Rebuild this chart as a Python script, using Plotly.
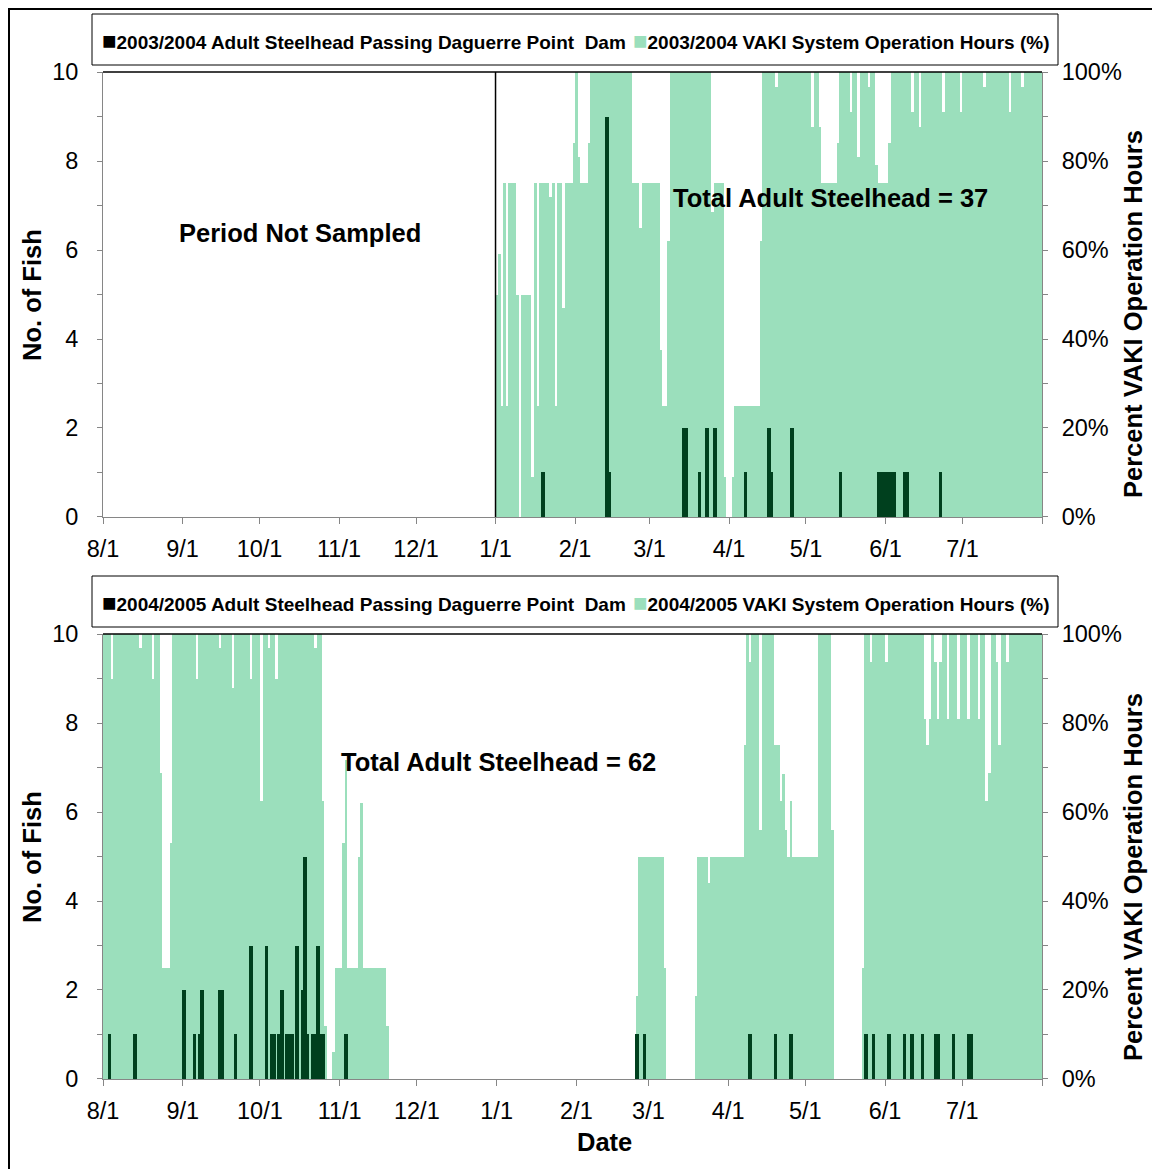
import numpy as np
import pandas as pd
import plotly.graph_objects as go

# ---------------- DATA ----------------
# Daily VAKI operation (%) as runs of [value, number_of_days], starting 2003-08-01
OPS_0304_RUNS = [
    [0, 153],
    [50, 1], [59, 1], [25, 1], [75, 1], [25, 1], [75, 3], [50, 1], [0, 1], [50, 4],
    [9, 1], [75, 1], [25, 1], [75, 4], [72, 1], [75, 1], [25, 1], [75, 2], [47, 1],
    [75, 3], [84, 1], [100, 1], [81, 1], [75, 3], [84, 1], [100, 16], [75, 3], [65, 1],
    [75, 7], [37.5, 1], [25, 2], [62, 1], [100, 16], [68.6, 1], [75, 4], [9, 1], [0, 2],
    [9, 1], [25, 10], [62, 1], [100, 5], [96.7, 1], [100, 13], [87.7, 1], [100, 2],
    [87.7, 1], [75, 6], [84, 1], [100, 4], [91, 1], [100, 2], [81, 1], [100, 3],
    [96.7, 1], [100, 2], [79, 1], [75, 4], [84, 1], [100, 8], [91, 1], [100, 2],
    [87.7, 1], [100, 8], [91, 1], [100, 6], [91, 1], [100, 8], [96.7, 1], [100, 9],
    [91, 1], [100, 4], [96.7, 1], [100, 7],
]
# starting 2004-08-01
OPS_0405_RUNS = [
    [100, 3], [90, 1], [100, 10], [96.8, 1], [100, 4], [90, 1], [100, 2], [68.8, 1],
    [25, 3], [53, 1], [100, 9], [90, 1], [100, 8], [96.8, 1], [100, 4], [87.9, 1],
    [100, 6], [90, 1], [100, 3], [62.5, 1], [100, 2], [96.8, 1], [100, 2], [90, 1],
    [100, 14], [96.8, 1], [100, 2], [62.5, 1], [12, 1], [0, 2], [6, 1], [25, 3],
    [53, 1], [71.7, 1], [25, 4], [50, 1], [62, 1], [25, 9], [12, 1], [0, 96],
    [18.7, 1], [50, 10], [25, 1], [0, 11], [18.7, 1], [50, 4], [44, 1], [50, 13],
    [75, 1], [100, 1], [93.8, 1], [100, 3], [56, 1], [100, 5], [75, 2], [62.5, 1],
    [68.5, 1], [56, 1], [50, 1], [62.5, 1], [50, 10], [100, 5], [56, 1], [0, 11],
    [25, 1], [100, 2], [93.8, 1], [100, 5], [93.8, 1], [100, 14], [81, 1], [75, 1],
    [81, 1], [100, 1], [93.8, 1], [81, 1], [93.8, 1], [100, 2], [81, 1], [100, 3],
    [81, 1], [100, 3], [81, 1], [100, 3], [81, 1], [100, 2], [62.5, 1], [68.7, 1],
    [100, 2], [93.8, 1], [75, 1], [100, 2], [93.8, 1], [100, 13],
]

FISH_0304_DATES = [
    "2004-01-19", "2004-02-13", "2004-02-14", "2004-03-14", "2004-03-15", "2004-03-20",
    "2004-03-23", "2004-03-26", "2004-04-07", "2004-04-16", "2004-04-17", "2004-04-25",
    "2004-05-14", "2004-05-29", "2004-05-30", "2004-05-31", "2004-06-01", "2004-06-02",
    "2004-06-03", "2004-06-04", "2004-06-08", "2004-06-09", "2004-06-22",
]
FISH_0304_COUNTS = [1, 9, 1, 2, 2, 1, 2, 2, 1, 2, 1, 2, 1, 1, 1, 1, 1, 1, 1, 1, 1, 1, 1]

FISH_0405_DATES = [
    "2004-08-03", "2004-08-13", "2004-09-01", "2004-09-05", "2004-09-07", "2004-09-08",
    "2004-09-15", "2004-09-16", "2004-09-21", "2004-09-27", "2004-10-03", "2004-10-05",
    "2004-10-06", "2004-10-08", "2004-10-09", "2004-10-11", "2004-10-12", "2004-10-13",
    "2004-10-15", "2004-10-17", "2004-10-18", "2004-10-19", "2004-10-21", "2004-10-22",
    "2004-10-23", "2004-10-24", "2004-10-25", "2004-11-03", "2005-02-24", "2005-02-27",
    "2005-04-09", "2005-04-19", "2005-04-25", "2005-05-24", "2005-05-27", "2005-06-02",
    "2005-06-08", "2005-06-11", "2005-06-15", "2005-06-20", "2005-06-21", "2005-06-27",
    "2005-07-03", "2005-07-04",
]
FISH_0405_COUNTS = [
    1, 1, 2, 1, 1, 2, 2, 2, 1, 3, 3, 1, 1, 1, 2, 1, 1, 1, 3, 2, 5, 1, 1, 1, 3, 1, 1, 1,
    1, 1, 1, 1, 1, 1, 1, 1, 1, 1, 1, 1, 1, 1, 1, 1,
]

TICK_LABELS = ["8/1", "9/1", "10/1", "11/1", "12/1", "1/1", "2/1", "3/1", "4/1", "5/1", "6/1", "7/1", ""]
TOTALS = [37, 62]
SEASONS = ["2003/2004", "2004/2005"]
FISH_NAME = "Adult Steelhead Passing Daguerre Point  Dam"
OPS_NAME = "VAKI System Operation Hours (%)"

# ---------------- helpers ----------------
def expand(runs, start):
    vals = np.repeat([r[0] for r in runs], [r[1] for r in runs])
    dates = pd.date_range(start, periods=len(vals), freq="D")
    return dates, vals

GREEN = "#9BDFBC"
DARK = "#00401E"
FONT = "Arial, Liberation Sans, sans-serif"
AX_GRAY = "#868686"
DAY_MS = 86400000
TICK_SIZE = 23.5
TITLE_SIZE = 25.5
LEGEND_SIZE = 19

d1, v1 = expand(OPS_0304_RUNS, "2003-08-01")
d2, v2 = expand(OPS_0405_RUNS, "2004-08-01")

fig = go.Figure()

panels = [
    dict(d=d1, v=v1, fd=FISH_0304_DATES, fc=FISH_0304_COUNTS, x="x", ypct="y", yfish="y2",
         season=SEASONS[0]),
    dict(d=d2, v=v2, fd=FISH_0405_DATES, fc=FISH_0405_COUNTS, x="x2", ypct="y3", yfish="y4",
         season=SEASONS[1]),
]

for p in panels:
    fig.add_trace(go.Bar(
        x=p["d"], y=p["v"], xaxis=p["x"], yaxis=p["ypct"],
        name=f"{p['season']} {OPS_NAME}",
        marker=dict(color=GREEN, line=dict(width=0)),
        width=DAY_MS, xperiod=DAY_MS, xperiodalignment="middle",
        showlegend=False, hoverinfo="x+y",
    ))
    fig.add_trace(go.Bar(
        x=pd.to_datetime(p["fd"]), y=p["fc"], xaxis=p["x"], yaxis=p["yfish"],
        name=f"{p['season']} {FISH_NAME}",
        marker=dict(color=DARK, line=dict(width=0)),
        width=1.35 * DAY_MS, xperiod=DAY_MS, xperiodalignment="middle",
        showlegend=False, hoverinfo="x+y",
    ))

TOP_DOM = [0.5581, 1.0]
BOT_DOM = [0.0, 0.4419]

def xaxis_cfg(start, end, anchor):
    tv = pd.date_range(start, end, freq="MS")
    return dict(
        type="date", range=[start, end], anchor=anchor, domain=[0, 1],
        tickvals=tv, ticktext=TICK_LABELS[:len(tv)],
        ticks="outside", ticklen=6, tickcolor=AX_GRAY, tickwidth=1,
        showline=True, linecolor=AX_GRAY, linewidth=1, showgrid=False, zeroline=False,
        tickfont=dict(family=FONT, size=TICK_SIZE, color="black"), ticklabelstandoff=5,
    )

def pct_cfg(dom, anchor):
    return dict(
        domain=dom, anchor=anchor, side="right", range=[0, 100], dtick=20, ticksuffix="%",
        ticks="outside", ticklen=5, tickcolor=AX_GRAY, showline=True, linecolor=AX_GRAY,
        showgrid=False, zeroline=False, fixedrange=True,
        minor=dict(dtick=10, ticks="outside", ticklen=5, tickcolor=AX_GRAY),
        tickfont=dict(family=FONT, size=TICK_SIZE, color="black"), ticklabelstandoff=9,
    )

def fish_cfg(over, anchor):
    return dict(
        overlaying=over, anchor=anchor, side="left", range=[0, 10], dtick=2,
        ticks="outside", ticklen=5, tickcolor=AX_GRAY, showline=True, linecolor=AX_GRAY,
        showgrid=False, zeroline=False, fixedrange=True,
        minor=dict(dtick=1, ticks="outside", ticklen=5, tickcolor=AX_GRAY),
        tickfont=dict(family=FONT, size=TICK_SIZE, color="black"), ticklabelstandoff=14,
    )

# The page body adds an 8px offset; the figure is sized so that the plot areas land
# at the same page pixels as the reference.
fig.update_layout(
    width=1152, height=1161,
    margin=dict(l=95, r=118, t=64, b=90, autoexpand=False),
    paper_bgcolor="white", plot_bgcolor="white",
    barmode="overlay", bargap=0,
    showlegend=False,
    xaxis=xaxis_cfg("2003-08-01", "2004-08-01", "y"),
    xaxis2=xaxis_cfg("2004-08-01", "2005-08-01", "y3"),
    yaxis=pct_cfg(TOP_DOM, "x"),
    yaxis2=fish_cfg("y", "x"),
    yaxis3=pct_cfg(BOT_DOM, "x2"),
    yaxis4=fish_cfg("y3", "x2"),
)

def px_x(px):
    return (px - 103) / 939.0

def px_y(py):
    return (1079 - py) / 1007.0

shapes = [
    # Period-not-sampled boundary line
    dict(type="line", xref="x", yref="y", x0="2004-01-01", x1="2004-01-01", y0=0, y1=100,
         line=dict(color="black", width=1.5)),
    # plot-area top borders
    dict(type="line", xref="paper", yref="paper", x0=0, x1=1, y0=1, y1=1,
         line=dict(color="black", width=1.5)),
    dict(type="line", xref="paper", yref="paper", x0=0, x1=1, y0=BOT_DOM[1], y1=BOT_DOM[1],
         line=dict(color="black", width=1.5)),
    # legend boxes
    dict(type="rect", xref="paper", yref="paper", x0=px_x(92), x1=px_x(1058),
         y0=px_y(65), y1=px_y(14), line=dict(color="black", width=1)),
    dict(type="rect", xref="paper", yref="paper", x0=px_x(92), x1=px_x(1058),
         y0=px_y(627), y1=px_y(576), line=dict(color="black", width=1)),
    # outer chart frame
    dict(type="rect", xref="paper", yref="paper", x0=px_x(9), x1=px_x(1175),
         y0=px_y(1185), y1=px_y(9), line=dict(color="black", width=2)),
]
fig.update_layout(shapes=shapes)

bold = dict(family=FONT, size=TITLE_SIZE, color="black", weight="bold")
ann = [
    dict(text="Period Not Sampled", x=px_x(300), y=px_y(233)),
    dict(text=f"Total Adult Steelhead = {TOTALS[0]}", x=px_x(830), y=px_y(198)),
    dict(text=f"Total Adult Steelhead = {TOTALS[1]}", x=px_x(498), y=px_y(762)),
    dict(text="Date", x=px_x(604), y=px_y(1142)),
    dict(text="No. of Fish", x=px_x(32), y=px_y(295), textangle=-90),
    dict(text="No. of Fish", x=px_x(32), y=px_y(857), textangle=-90),
    dict(text="Percent VAKI Operation Hours", x=px_x(1133), y=px_y(314), textangle=-90),
    dict(text="Percent VAKI Operation Hours", x=px_x(1133), y=px_y(877), textangle=-90),
]
annotations = [
    dict(xref="paper", yref="paper", showarrow=False, xanchor="center", yanchor="middle",
         font=bold, **a) for a in ann
]

# legend entries (key square + label), one box per panel
leg_font = dict(family=FONT, size=LEGEND_SIZE, color="black", weight="bold")
for season, ly in zip(SEASONS, [40, 602]):
    annotations.append(dict(
        xref="paper", yref="paper", showarrow=False, xanchor="left", yanchor="middle",
        x=px_x(100), y=px_y(ly), font=leg_font,
        text=f'<span style="color:black;font-size:24px">■</span>{season} {FISH_NAME}',
    ))
    annotations.append(dict(
        xref="paper", yref="paper", showarrow=False, xanchor="left", yanchor="middle",
        x=px_x(631), y=px_y(ly), font=leg_font,
        text=f'<span style="color:{GREEN};font-size:24px">■</span>{season} {OPS_NAME}',
    ))
fig.update_layout(annotations=annotations)

fig.write_html("out.html")
